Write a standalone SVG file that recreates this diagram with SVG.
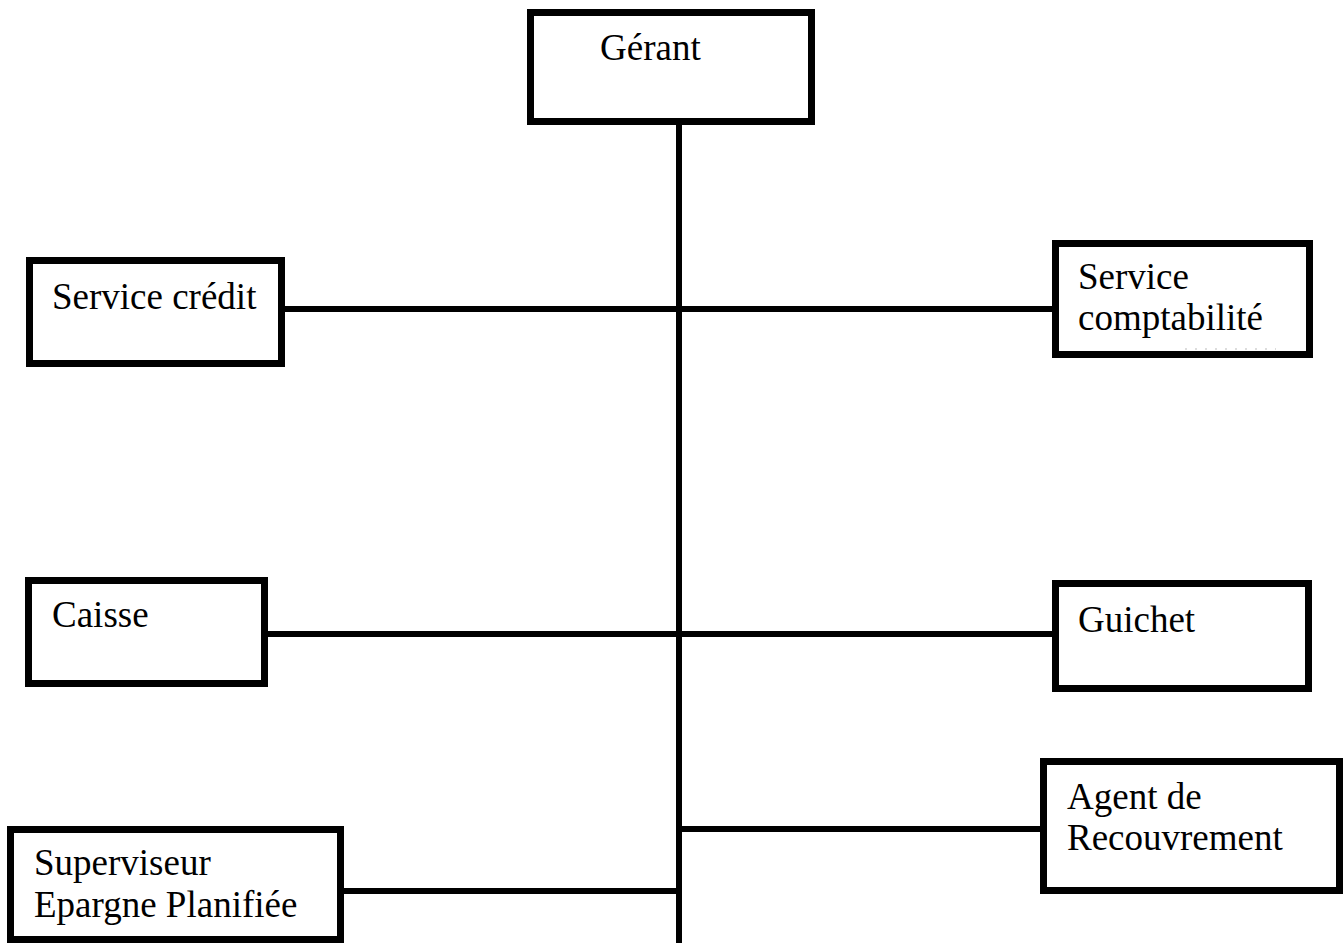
<svg xmlns="http://www.w3.org/2000/svg" width="1343" height="943" viewBox="0 0 1343 943">
<style>
.box{fill:#fff;stroke:#000;stroke-width:7}
.ln{stroke:#000;stroke-width:6;fill:none}
text{font-family:"Liberation Serif","Times New Roman",serif;font-size:37px;fill:#000}
</style>
<rect width="1343" height="943" fill="#fff"/>
<g id="connectors">
<line class="ln" x1="679" y1="121" x2="679" y2="943"/>
<line class="ln" x1="282" y1="309" x2="1056" y2="309"/>
<line class="ln" x1="265" y1="634" x2="1056" y2="634"/>
<line class="ln" x1="679" y1="829" x2="1044" y2="829"/>
<line class="ln" x1="341" y1="891" x2="679" y2="891"/>
</g>
<g id="gerant">
<rect class="box" x="530.5" y="12.5" width="281" height="109"/>
<text x="600" y="60">Gérant</text>
</g>
<g id="service-credit">
<rect class="box" x="29.5" y="260.5" width="252" height="103"/>
<text x="52" y="309">Service crédit</text>
</g>
<g id="service-comptabilite">
<rect class="box" x="1055.5" y="243.5" width="254" height="111"/>
<text x="1078" y="289">Service</text>
<text x="1078" y="330">comptabilité</text>
<line x1="1185" y1="349" x2="1276" y2="349" stroke="#bbb" stroke-width="1" stroke-dasharray="2,8"/>
</g>
<g id="caisse">
<rect class="box" x="28.5" y="580.5" width="236" height="103"/>
<text x="52" y="627">Caisse</text>
</g>
<g id="guichet">
<rect class="box" x="1055.5" y="583.5" width="253" height="105"/>
<text x="1078" y="632">Guichet</text>
</g>
<g id="agent-recouvrement">
<rect class="box" x="1043.5" y="761.5" width="296" height="129"/>
<text x="1067" y="809">Agent de</text>
<text x="1067" y="850">Recouvrement</text>
</g>
<g id="superviseur">
<rect class="box" x="10.5" y="829.5" width="330" height="110"/>
<text x="34" y="875">Superviseur</text>
<text x="34" y="917">Epargne Planifiée</text>
</g>
</svg>
